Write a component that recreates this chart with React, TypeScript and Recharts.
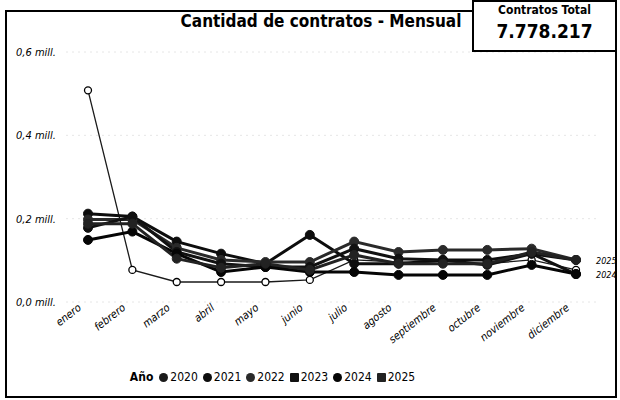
import React from 'react';
import { LineChart, Line, XAxis, YAxis, CartesianGrid, Legend } from 'recharts';

// Monthly contract counts, in millions
const MONTHS = [
  'enero', 'febrero', 'marzo', 'abril', 'mayo', 'junio',
  'julio', 'agosto', 'septiembre', 'octubre', 'noviembre', 'diciembre'
];
const Y_TICKS = [0, 0.2, 0.4, 0.6];

const Y2020 = [0.508, 0.077, 0.048, 0.048, 0.048, 0.053, 0.101, 0.096, 0.092, 0.092, 0.101, 0.077];
const Y2021 = [0.212, 0.205, 0.145, 0.116, 0.092, 0.161, 0.092, 0.092, 0.101, 0.101, 0.116, 0.101];
const Y2022 = [0.198, 0.198, 0.130, 0.101, 0.096, 0.096, 0.145, 0.120, 0.125, 0.125, 0.128, 0.101];
const Y2023 = [0.178, 0.205, 0.120, 0.092, 0.084, 0.084, 0.128, 0.104, 0.101, 0.089, 0.116, 0.067];
const Y2024 = [0.149, 0.169, 0.116, 0.072, 0.084, 0.072, 0.072, 0.065, 0.065, 0.065, 0.089, 0.067];
const Y2025 = [0.188, 0.188, 0.104, 0.082, 0.092, 0.077, 0.113, 0.092, 0.092, 0.092, 0.120, 0.101];

const YEARS = ['2020', '2021', '2022', '2023', '2024', '2025'];
const SERIES = [Y2020, Y2021, Y2022, Y2023, Y2024, Y2025];
const COLORS = ['#1a1a1a', '#0d0d0d', '#2a2a2a', '#111111', '#050505', '#222222'];

const data = MONTHS.map((m, i) => {
  const row: any = { month: m };
  YEARS.forEach((y, k) => { row[y] = SERIES[k][i]; });
  return row;
});

const FONT = '"DejaVu Sans Condensed", "DejaVu Sans", sans-serif';

const MonthTick = ({ x, y, payload }: any) => (
  <text
    x={x - 6}
    y={y - 1}
    transform={`rotate(-38, ${x - 6}, ${y - 1})`}
    textAnchor="end"
    fontSize={11}
    fontStyle="italic"
    fontFamily={FONT}
    fill="#000"
  >
    {payload.value}
  </text>
);

// year label next to the last point of a series
const EndLabel = (year: string) => (props: any) => {
  const { x, y, index } = props;
  if (index !== MONTHS.length - 1) return null;
  return (
    <text x={x + 20} y={y + 4} fontSize={9} fontStyle="italic" fontFamily={FONT} fill="#000">
      {year}
    </text>
  );
};

const YearLegend = () => (
  <div style={{ display: 'flex', justifyContent: 'center', alignItems: 'center', fontFamily: FONT, fontSize: 12, color: '#000', marginLeft: -56 }}>
    <span style={{ fontWeight: 'bold', marginRight: 6 }}>Año</span>
    {YEARS.map((y, k) => (
      <span key={y} style={{ display: 'inline-flex', alignItems: 'center', marginRight: 5 }}>
        <span
          style={{
            width: 9,
            height: 9,
            borderRadius: k === 3 || k === 5 ? 1 : 5,
            background: COLORS[k],
            marginRight: 2,
            display: 'inline-block'
          }}
        />
        {y}
      </span>
    ))}
  </div>
);

export default function App() {
  return (
    <div style={{ position: 'absolute', left: 0, top: 0, width: 620, height: 400, background: '#fff' }}>
      {/* outer frame */}
      <div style={{ position: 'absolute', left: 5, top: 10, width: 608, height: 384, border: '2px solid #000' }} />

      <LineChart width={620} height={400} data={data} margin={{ top: 52, right: 22, left: 8, bottom: 8 }}>
        <CartesianGrid vertical={false} stroke="#e6e6e6" strokeDasharray="2 4" />
        <XAxis
          dataKey="month"
          tick={<MonthTick />}
          tickLine={false}
          axisLine={false}
          height={68}
          interval={0}
          padding={{ left: 22, right: 22 }}
        />
        <YAxis
          domain={[0, 0.6]}
          ticks={Y_TICKS}
          width={58}
          tickLine={false}
          axisLine={false}
          tickMargin={4}
          tick={{ fontSize: 11, fontStyle: 'italic', fontFamily: FONT, fill: '#000' }}
          tickFormatter={(v: number) => `${v.toFixed(1).replace('.', ',')} mill.`}
        />
        <Legend verticalAlign="bottom" height={22} content={<YearLegend />} />
        {YEARS.map((y, k) => (
          <Line
            key={y}
            dataKey={y}
            type="linear"
            stroke={COLORS[k]}
            strokeWidth={k === 0 ? 1.3 : 3}
            dot={k === 0
              ? { r: 3.5, fill: '#fff', stroke: '#000', strokeWidth: 1.3 }
              : { r: 4.5, fill: COLORS[k], stroke: COLORS[k], strokeWidth: 1 }}
            label={k === 4 || k === 5 ? EndLabel(y) : undefined}
            isAnimationActive={false}
          />
        ))}
      </LineChart>

      {/* title */}
      <div
        style={{
          position: 'absolute', left: 150, top: 11, width: 342, textAlign: 'center',
          fontFamily: FONT, fontWeight: 'bold', fontSize: 17, color: '#000'
        }}
      >
        Cantidad de contratos - Mensual
      </div>

      {/* total box */}
      <div
        style={{
          position: 'absolute', left: 472, top: 0, width: 141, height: 48, background: '#fff',
          border: '2px solid #000', fontFamily: FONT, color: '#000', textAlign: 'center'
        }}
      >
        <div style={{ fontWeight: 'bold', fontSize: 12, marginTop: 1 }}>Contratos Total</div>
        <div style={{ fontWeight: 'bold', fontSize: 19, marginTop: 3 }}>7.778.217</div>
      </div>
    </div>
  );
}
